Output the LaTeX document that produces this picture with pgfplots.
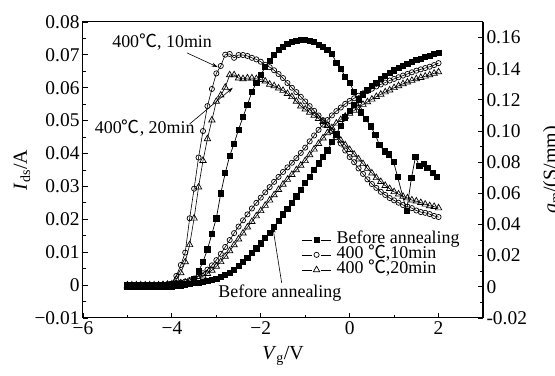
\documentclass[border=0pt]{standalone}
\usepackage{fontspec}
\setmainfont{Liberation Serif}
\newfontfamily\cjk{Noto Sans CJK SC}
\usepackage{pgfplots}
\usepackage{pgfplotstable}
\pgfplotsset{compat=1.18}
\usetikzlibrary{arrows.meta}

% ---------- I_ds (left axis) ----------
\pgfplotstableread{
x y
-5.0 0
-4.9 0
-4.8 0
-4.7 0
-4.6 0
-4.5 0
-4.4 0
-4.3 0
-4.2 0.0001
-4.1 0.0001
-4.0 0.0002
-3.9 0.0002
-3.8 0.0003
-3.7 0.0004
-3.6 0.0005
-3.5 0.0006
-3.4 0.0008
-3.3 0.001
-3.2 0.0013
-3.1 0.0016
-3.0 0.002
-2.9 0.0024
-2.8 0.003
-2.7 0.0038
-2.6 0.0047
-2.5 0.0058
-2.4 0.007
-2.3 0.0084
-2.2 0.0098
-2.1 0.0112
-2.0 0.0127
-1.9 0.0143
-1.8 0.016
-1.7 0.0178
-1.6 0.0196
-1.5 0.0215
-1.4 0.0233
-1.3 0.0251
-1.2 0.027
-1.1 0.029
-1.0 0.031
-0.9 0.033
-0.8 0.035
-0.7 0.037
-0.6 0.039
-0.5 0.041
-0.4 0.0435
-0.3 0.046
-0.2 0.0485
-0.1 0.051
0.0 0.053
0.1 0.0548
0.2 0.0565
0.3 0.058
0.4 0.0593
0.5 0.0605
0.6 0.0616
0.7 0.0627
0.8 0.0636
0.9 0.0645
1.0 0.0653
1.1 0.066
1.2 0.0667
1.3 0.0673
1.4 0.0679
1.5 0.0684
1.6 0.0689
1.7 0.0694
1.8 0.0698
1.9 0.0702
2.0 0.0706
}\befIds

\pgfplotstableread{
x y
-5.0 0
-4.9 0
-4.8 0
-4.7 0
-4.6 0
-4.5 0
-4.4 0.0001
-4.3 0.0001
-4.2 0.0002
-4.1 0.0003
-4.0 0.0004
-3.9 0.0006
-3.8 0.0008
-3.7 0.0011
-3.6 0.0015
-3.5 0.002
-3.4 0.0027
-3.3 0.0036
-3.2 0.0047
-3.1 0.006
-3.0 0.0076
-2.9 0.0095
-2.8 0.0116
-2.7 0.0137
-2.6 0.0158
-2.5 0.0178
-2.4 0.0197
-2.3 0.0215
-2.2 0.0233
-2.1 0.025
-2.0 0.0266
-1.9 0.0282
-1.8 0.0298
-1.7 0.0314
-1.6 0.0329
-1.5 0.0344
-1.4 0.0358
-1.3 0.0372
-1.2 0.0386
-1.1 0.0402
-1.0 0.0418
-0.9 0.0437
-0.8 0.0455
-0.7 0.0472
-0.6 0.0488
-0.5 0.0502
-0.4 0.0516
-0.3 0.0529
-0.2 0.054
-0.1 0.0551
0.0 0.056
0.1 0.0568
0.2 0.0576
0.3 0.0583
0.4 0.059
0.5 0.0597
0.6 0.0604
0.7 0.061
0.8 0.0616
0.9 0.0622
1.0 0.0627
1.1 0.0632
1.2 0.0637
1.3 0.0642
1.4 0.0647
1.5 0.0652
1.6 0.0656
1.7 0.066
1.8 0.0664
1.9 0.0669
2.0 0.0675
}\tenIds

\pgfplotstableread{
x y
-5.0 0
-4.9 0
-4.8 0
-4.7 0
-4.6 0
-4.5 0
-4.4 0
-4.3 0
-4.2 0.0001
-4.1 0.0002
-4.0 0.0003
-3.9 0.0004
-3.8 0.0006
-3.7 0.0008
-3.6 0.0011
-3.5 0.0015
-3.4 0.002
-3.3 0.0027
-3.2 0.0035
-3.1 0.0045
-3.0 0.0057
-2.9 0.0071
-2.8 0.0087
-2.7 0.0104
-2.6 0.0122
-2.5 0.014
-2.4 0.0158
-2.3 0.0176
-2.2 0.0193
-2.1 0.021
-2.0 0.0226
-1.9 0.0242
-1.8 0.0258
-1.7 0.0274
-1.6 0.029
-1.5 0.0306
-1.4 0.0321
-1.3 0.0336
-1.2 0.035
-1.1 0.0364
-1.0 0.0378
-0.9 0.0396
-0.8 0.0413
-0.7 0.043
-0.6 0.0447
-0.5 0.0463
-0.4 0.0478
-0.3 0.0492
-0.2 0.0503
-0.1 0.0513
0.0 0.0522
0.1 0.0531
0.2 0.054
0.3 0.0549
0.4 0.0557
0.5 0.0565
0.6 0.0573
0.7 0.058
0.8 0.0587
0.9 0.0593
1.0 0.06
1.1 0.0606
1.2 0.0612
1.3 0.0617
1.4 0.0622
1.5 0.0627
1.6 0.0631
1.7 0.0635
1.8 0.0639
1.9 0.0644
2.0 0.0648
}\twentyIds

% ---------- g_m (right axis) ----------
\pgfplotstableread{
x y
-5.0 0
-4.9 0
-4.8 0
-4.7 0
-4.6 0
-4.5 0
-4.4 0
-4.3 0
-4.2 0
-4.1 0
-4.0 0
-3.9 0.0005
-3.8 0.001
-3.7 0.0015
-3.6 0.002
-3.5 0.005
-3.4 0.010
-3.3 0.016
-3.2 0.024
-3.1 0.034
-3.0 0.044
-2.9 0.060
-2.8 0.073
-2.7 0.084
-2.6 0.092
-2.5 0.101
-2.4 0.109
-2.3 0.117
-2.2 0.125
-2.1 0.131
-2.0 0.136
-1.9 0.141
-1.8 0.145
-1.7 0.149
-1.6 0.152
-1.5 0.154
-1.4 0.156
-1.3 0.1575
-1.2 0.158
-1.1 0.1585
-1.0 0.1585
-0.9 0.158
-0.8 0.157
-0.7 0.1555
-0.6 0.154
-0.5 0.152
-0.4 0.1495
-0.3 0.144
-0.2 0.140
-0.1 0.135
0.0 0.131
0.1 0.125
0.25 0.112
0.36 0.108
0.47 0.103
0.58 0.0975
0.67 0.091
0.79 0.087
0.88 0.085
0.99 0.080
1.08 0.0705
1.28 0.0487
1.39 0.0698
1.48 0.0833
1.57 0.0775
1.67 0.0788
1.75 0.0763
1.87 0.073
1.96 0.0705
}\befGm

\pgfplotstableread{
x y
-5.0 0
-4.9 0
-4.8 0
-4.7 0
-4.6 0
-4.5 0
-4.4 0
-4.3 0
-4.2 0.0005
-4.1 0.001
-4.0 0.002
-3.9 0.007
-3.8 0.014
-3.7 0.022
-3.6 0.044
-3.5 0.063
-3.4 0.083
-3.3 0.100
-3.2 0.116
-3.1 0.127
-3.0 0.137
-2.9 0.1418
-2.8 0.149
-2.7 0.1495
-2.6 0.147
-2.5 0.1488
-2.4 0.1488
-2.3 0.1482
-2.2 0.147
-2.1 0.146
-2.0 0.1445
-1.9 0.1425
-1.8 0.141
-1.7 0.139
-1.6 0.1366
-1.5 0.134
-1.4 0.1308
-1.3 0.1278
-1.2 0.125
-1.1 0.122
-1.0 0.119
-0.9 0.116
-0.8 0.113
-0.7 0.110
-0.6 0.107
-0.5 0.104
-0.4 0.100
-0.3 0.096
-0.2 0.092
-0.1 0.0875
0.0 0.0833
0.1 0.080
0.2 0.076
0.3 0.0725
0.4 0.069
0.5 0.066
0.6 0.0635
0.7 0.061
0.8 0.059
0.9 0.057
1.0 0.0555
1.1 0.054
1.2 0.0525
1.3 0.0515
1.4 0.0505
1.5 0.049
1.6 0.048
1.7 0.0475
1.8 0.0467
1.9 0.0455
2.0 0.0448
}\tenGm

\pgfplotstableread{
x y
-5.0 0
-4.9 0
-4.8 0
-4.7 0
-4.6 0
-4.5 0
-4.4 0
-4.3 0
-4.2 0
-4.1 0.0005
-4.0 0.001
-3.9 0.005
-3.8 0.009
-3.7 0.016
-3.6 0.027
-3.5 0.044
-3.4 0.064
-3.3 0.081
-3.2 0.095
-3.1 0.107
-3.0 0.119
-2.9 0.123
-2.8 0.128
-2.7 0.136
-2.6 0.136
-2.5 0.134
-2.4 0.1335
-2.3 0.134
-2.2 0.134
-2.1 0.1335
-2.0 0.133
-1.9 0.132
-1.8 0.130
-1.7 0.129
-1.6 0.1275
-1.5 0.126
-1.4 0.124
-1.3 0.122
-1.2 0.119
-1.1 0.116
-1.0 0.114
-0.9 0.112
-0.8 0.110
-0.7 0.108
-0.6 0.106
-0.5 0.1035
-0.4 0.100
-0.3 0.097
-0.2 0.094
-0.1 0.091
0.0 0.088
0.1 0.085
0.2 0.082
0.3 0.079
0.4 0.076
0.5 0.073
0.6 0.070
0.7 0.0675
0.8 0.065
0.9 0.063
1.0 0.061
1.1 0.0595
1.2 0.058
1.3 0.057
1.4 0.0557
1.5 0.055
1.6 0.054
1.7 0.053
1.8 0.052
1.9 0.0515
2.0 0.0506
}\twentyGm

\pgfplotsset{
  base/.style={
    scale only axis, width=400bp, height=296bp,
    xmin=-6, xmax=3,
    scaled ticks=false,
    tick align=inside,
    major tick length=5bp, minor tick length=3bp,
    tick style={black, line width=0.8bp},
    axis line style={line width=1bp},
    ticklabel style={font=\fontsize{19.5}{22}\selectfont},
  },
  gaplegend/.style={legend image code/.code={
    \draw[##1,mark=none] (-0.45cm,0cm) -- (-0.07cm,0cm);
    \draw[##1,mark=none] (0.23cm,0cm) -- (0.6cm,0cm);
    \draw[##1] plot[only marks] coordinates {(0.08cm,0cm)};
  }},
  befsty/.style={black, line width=0.7bp, mark=square*, mark size=2.6bp, mark options={solid}},
  tensty/.style={black, line width=0.6bp, mark=o, mark size=2.6bp, mark options={solid, fill=white, line width=0.7bp}},
  twentysty/.style={black, line width=0.6bp, mark=triangle, mark size=3.7bp, mark options={solid, line width=0.7bp}},
}

\begin{document}
\begin{tikzpicture}
\begin{axis}[base, name=ax,
  ymin=-0.01, ymax=0.08,
  xtick={-6,-4,-2,0,2}, xticklabels={−6,−4,−2,0,2},
  minor xtick={-5,-3,-1,1,3},
  ytick={-0.01,0,0.01,0.02,0.03,0.04,0.05,0.06,0.07,0.08},
  yticklabels={−0.01,0,0.01,0.02,0.03,0.04,0.05,0.06,0.07,0.08},
  minor ytick={-0.005,0.005,0.015,0.025,0.035,0.045,0.055,0.065,0.075},
  xtick pos=left, ytick pos=left,
]
\addplot[befsty] table {\befIds};
\addplot[tensty] table {\tenIds};
\addplot[twentysty] table {\twentyIds};

\node[font=\fontsize{18}{20}\selectfont] at (axis cs:-4.22,0.0739) {400{\cjk ℃}, 10min};
\draw[-{Stealth[length=6bp,width=4bp]}, line width=0.6bp] (axis cs:-3.66,0.0706) -- (axis cs:-2.97,0.0663);
\node[font=\fontsize{18}{20}\selectfont] at (axis cs:-4.61,0.0478) {400{\cjk ℃}, 20min};
\draw[-{Stealth[length=6bp,width=4bp]}, line width=0.6bp] (axis cs:-3.6,0.049) -- (axis cs:-2.63,0.06);
\node[font=\fontsize{18}{20}\selectfont] at (axis cs:-1.57,-0.0025) {Before annealing};
\draw[-{Stealth[length=6bp,width=4bp]}, line width=0.6bp] (axis cs:-1.53,0.0007) -- (axis cs:-1.73,0.0177);
\end{axis}

\begin{axis}[base,
  ymin=-0.02, ymax=0.17,
  hide x axis, axis y line*=right,
  ytick={-0.02,0,0.02,0.04,0.06,0.08,0.10,0.12,0.14,0.16},
  yticklabels={-0.02,0,0.02,0.04,0.06,0.08,0.10,0.12,0.14,0.16},
  minor ytick={-0.01,0.01,0.03,0.05,0.07,0.09,0.11,0.13,0.15},
  legend style={at={(0.545,0.29)}, anchor=north west, draw=none, fill=none,
    font=\fontsize{18}{18}\selectfont, inner sep=0pt, row sep=0pt,
    nodes={inner sep=1bp, text height=10bp, text depth=3bp},
    /tikz/every odd column/.append style={column sep=4bp}},
  legend cell align=left,
]
\addplot[befsty, gaplegend] table {\befGm};
\addlegendentry{Before annealing}
\addplot[tensty, gaplegend] table {\tenGm};
\addlegendentry{400 {\cjk ℃},10min}
\addplot[twentysty, gaplegend] table {\twentyGm};
\addlegendentry{400 {\cjk ℃},20min}
\end{axis}

\node[rotate=90, font=\fontsize{20}{22}\selectfont] at ([xshift=-61bp]ax.west) {\textit{I}\textsubscript{ds}/A};
\node[font=\fontsize{20}{22}\selectfont] at ([yshift=-38bp]ax.south) {\textit{V}\textsubscript{g}/V};
\node[rotate=90, font=\fontsize{20}{22}\selectfont] at ([xshift=69bp]ax.east) {\textit{g}\textsubscript{m}/(S/mm)};

\pgfresetboundingbox
\path[use as bounding box] ([shift={(-83bp,-58bp)}]ax.south west) rectangle ([shift={(72bp,22bp)}]ax.north east);
\end{tikzpicture}
\end{document}
